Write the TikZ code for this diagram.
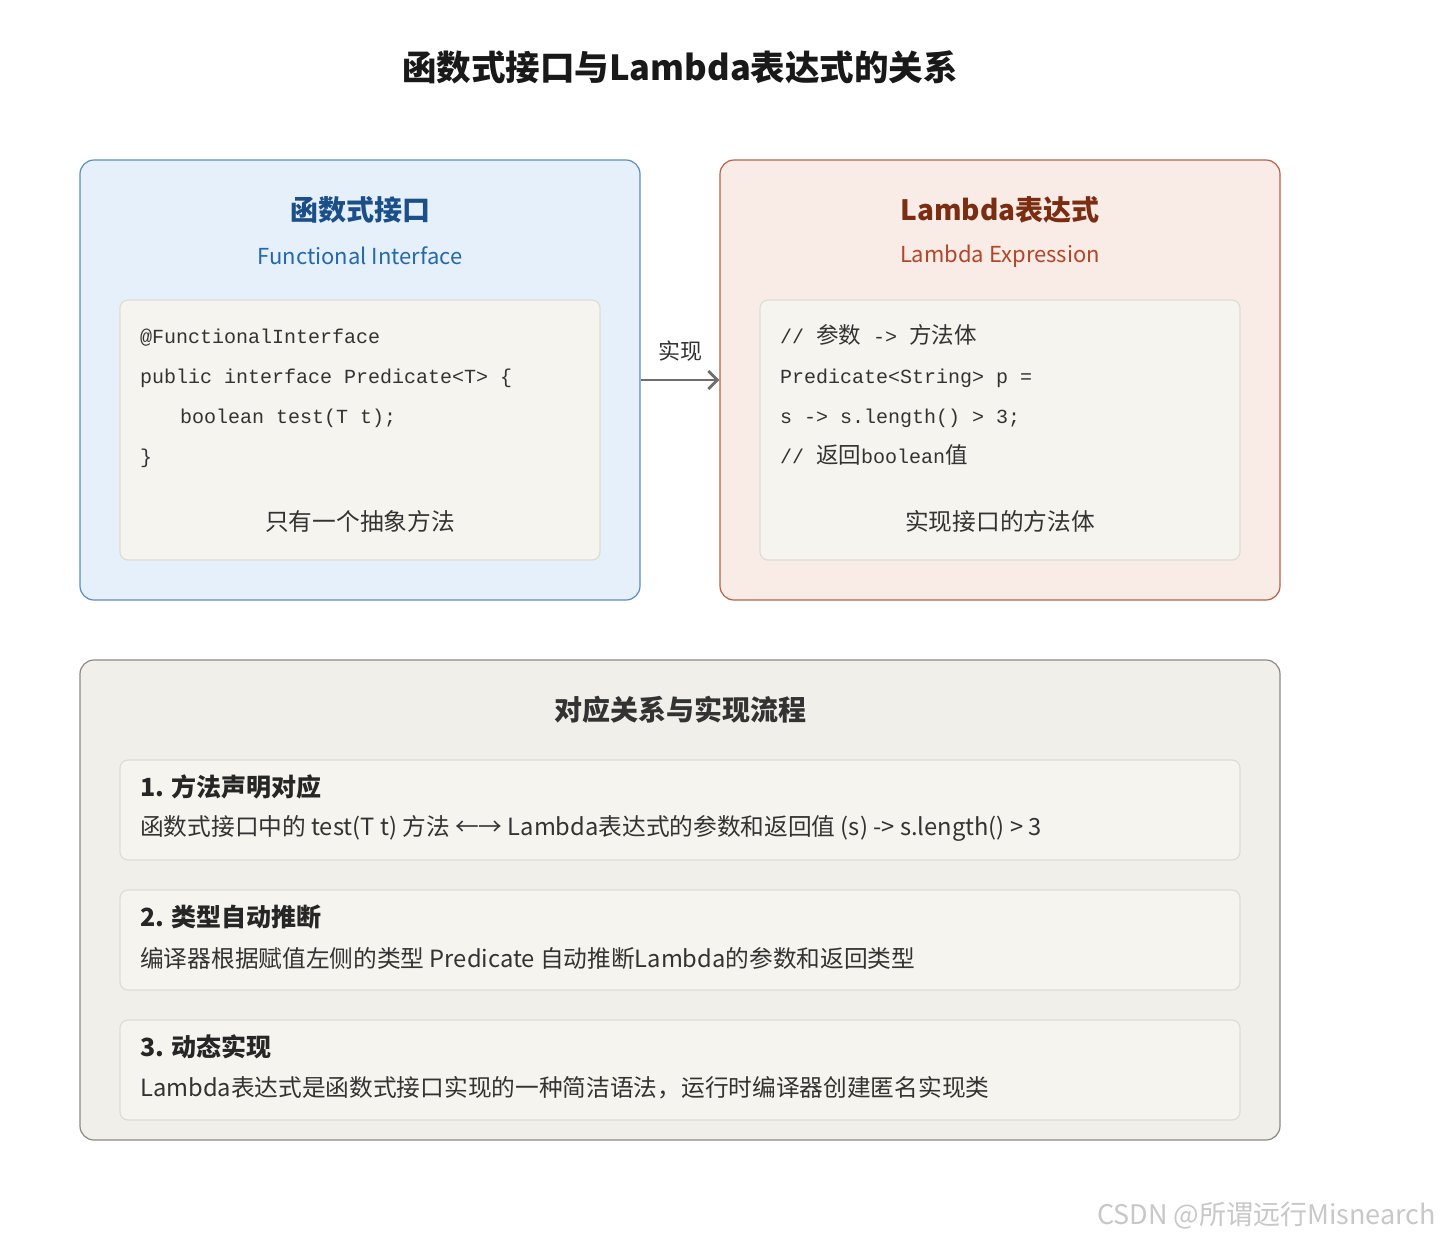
\documentclass[tikz,border=0pt]{standalone}
\usepackage{fontspec}
\setmainfont{Noto Sans CJK SC}
\newfontfamily\cjkf{Noto Sans CJK SC}
\newfontfamily\codef{Liberation Mono}
\usetikzlibrary{arrows.meta}
\definecolor{lfill}{HTML}{E6F0FA}
\definecolor{lline}{HTML}{5B8CC8}
\definecolor{ltitle}{HTML}{1B4F8A}
\definecolor{lsub}{HTML}{2468B0}
\definecolor{rfill}{HTML}{F9EBE6}
\definecolor{rline}{HTML}{B8614A}
\definecolor{rtitle}{HTML}{7B2D12}
\definecolor{rsub}{HTML}{B3452A}
\definecolor{infill}{HTML}{F5F4EE}
\definecolor{inline}{HTML}{DEDCD6}
\definecolor{bfill}{HTML}{F1EFE9}
\definecolor{bline}{HTML}{8C8A86}
\definecolor{txt}{HTML}{333333}
\definecolor{arrowc}{HTML}{6E6E6E}
\definecolor{wm}{HTML}{C8C8C8}
\newcommand\zh[1]{{\cjkf\fontsize{22.5}{24}\selectfont #1}}
\begin{document}
\begin{tikzpicture}[x=1pt,y=-1pt,
  outerbox/.style={draw, rounded corners=14pt, line width=1.2pt, minimum width=560pt, minimum height=440pt, inner sep=0pt},
  innerbox/.style={draw=inline, fill=infill, rounded corners=8pt, line width=1.2pt, minimum width=480pt, minimum height=260pt, inner sep=0pt},
  rowbox/.style={draw=inline, fill=infill, rounded corners=8pt, line width=1.2pt, minimum width=1120pt, minimum height=100pt, inner sep=0pt},
  codetxt/.style={anchor=base west, inner sep=0pt, font=\codef\fontsize{20}{24}\selectfont, text=txt},
  boxtitle/.style={inner sep=0pt, font=\bfseries\fontsize{28}{32}\selectfont},
  boxsub/.style={inner sep=0pt, font=\fontsize{22}{26}\selectfont},
  bodytxt/.style={inner sep=0pt, font=\fontsize{23.7}{28}\selectfont, text=txt},
  headtxt/.style={anchor=west, inner sep=0pt, font=\bfseries\fontsize{25}{30}\selectfont, text=black!85},
  arr/.style={draw=arrowc, line width=2.8pt, -{Straight Barb[length=9pt,width=18pt,line width=2.8pt]}}
]
\useasboundingbox[fill=white] (0,0) rectangle (1440,1240);

% Title
\node[inner sep=0pt, font=\bfseries\fontsize{34.5}{38}\selectfont, text=black!90] (title) at (680,67) {函数式接口与Lambda表达式的关系};

% Left box
\node[outerbox, draw=lline, fill=lfill] (lbox) at (360,380) {};
\node[boxtitle, text=ltitle] (ltitle) at (360,210) {函数式接口};
\node[boxsub, text=lsub] (lsub) at (360,256) {Functional Interface};
\node[innerbox] (lin) at (360,430) {};
\node[codetxt] (lc1) at (140,343) {@FunctionalInterface};
\node[codetxt] (lc2) at (140,383) {public interface Predicate<T> \{};
\node[codetxt] (lc3) at (180,423) {boolean test(T t);};
\node[codetxt] (lc4) at (140,463) {\}};
\node[bodytxt] (lnote) at (360,521) {只有一个抽象方法};

% Right box
\node[outerbox, draw=rline, fill=rfill] (rbox) at (1000,380) {};
\node[boxtitle, text=rtitle] (rtitle) at (1000,210) {Lambda表达式};
\node[boxsub, text=rsub] (rsub) at (1000,256) {Lambda Expression};
\node[innerbox] (rin) at (1000,430) {};
\node[codetxt] (rc1) at (780,343) {// \zh{参数} -> \zh{方法体}};
\node[codetxt] (rc2) at (780,383) {Predicate<String> p =};
\node[codetxt] (rc3) at (780,423) {s -> s.length() > 3;};
\node[codetxt] (rc4) at (780,463) {// \zh{返回}boolean\zh{值}};
\node[bodytxt] (rnote) at (1000,521) {实现接口的方法体};

% Arrow
\draw[arr] (lbox.east) -- (rbox.west);
\node[inner sep=0pt, font=\fontsize{22}{26}\selectfont, text=txt] (impl) at (680,351) {实现};

% Bottom box
\node[draw=bline, fill=bfill, rounded corners=14pt, line width=1.2pt, minimum width=1200pt, minimum height=480pt, inner sep=0pt] (bbox) at (680,900) {};
\node[boxtitle, text=txt] (btitle) at (680,710) {对应关系与实现流程};

\node[rowbox] (row1) at (680,810) {};
\node[headtxt] (h1) at (140,787) {1. 方法声明对应};
\node[bodytxt, anchor=west] (b1) at (140,828) {函数式接口中的 test(T t) 方法 ←→ Lambda表达式的参数和返回值 (s) -> s.length() > 3};

\node[rowbox] (row2) at (680,940) {};
\node[headtxt] (h2) at (140,917) {2. 类型自动推断};
\node[bodytxt, anchor=west] (b2) at (140,958) {编译器根据赋值左侧的类型 Predicate 自动推断Lambda的参数和返回类型};

\node[rowbox] (row3) at (680,1070) {};
\node[headtxt] (h3) at (140,1047) {3. 动态实现};
\node[bodytxt, anchor=west] (b3) at (140,1088) {Lambda表达式是函数式接口实现的一种简洁语法，运行时编译器创建匿名实现类};

% Watermark
\node[inner sep=0pt, anchor=east, font=\fontsize{27}{30}\selectfont, text=wm] (wmark) at (1436,1215) {CSDN @所谓远行Misnearch};
\end{tikzpicture}
\end{document}
